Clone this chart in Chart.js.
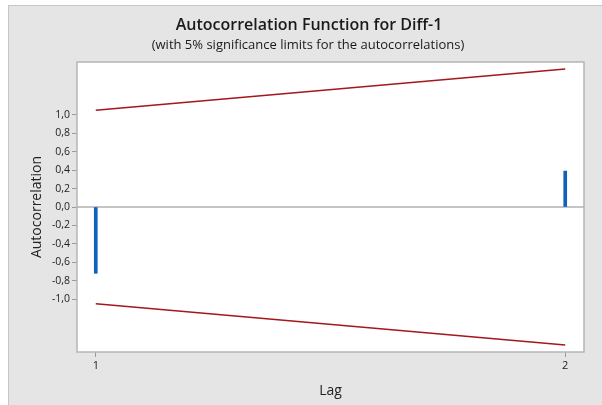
<!DOCTYPE html>
<html>
<head>
<meta charset="utf-8">
<script src="https://cdn.jsdelivr.net/npm/chart.js@4/dist/chart.umd.min.js"></script>
<style>
  html, body { margin: 0; padding: 0; background: #fff; }
  #wrap { width: 602px; height: 405px; }
</style>
</head>
<body>
<div id="wrap"><canvas id="acfChart"></canvas></div>
<script>
// ACF values
const lags = [1, 2];
const acf = [-0.72, 0.39];
const upperLimit = [1.05, 1.50];
const lowerLimit = [-1.05, -1.50];
const yTicks = [-1.0, -0.8, -0.6, -0.4, -0.2, 0.0, 0.2, 0.4, 0.6, 0.8, 1.0];
const xTicks = [1, 2];

const titleText = 'Autocorrelation Function for Diff-1';
const subtitleText = '(with 5% significance limits for the autocorrelations)';

const toXY = (vals) => lags.map((l, i) => ({ x: l, y: vals[i] }));

// gray frame, white plot area, zero line, border, titles
const frame = {
    id: 'frame',
    beforeDraw(chart) {
        const c = chart.ctx, a = chart.chartArea;
        c.save();
        c.fillStyle = '#ffffff';
        c.fillRect(0, 0, chart.width, chart.height);
        c.fillStyle = '#e5e5e5';
        c.fillRect(8, 5, chart.width - 8, chart.height - 5);
        c.strokeStyle = '#c6c6c6';
        c.lineWidth = 1;
        c.strokeRect(8.5, 5.5, chart.width, chart.height);
        c.fillStyle = '#ffffff';
        c.fillRect(a.left, a.top, a.right - a.left, a.bottom - a.top);

        c.fillStyle = '#1a1a1a';
        c.textAlign = 'center';
        c.textBaseline = 'middle';
        c.font = '600 16px "Open Sans"';
        c.fillText(titleText, 309, 25);
        c.font = '13px "Open Sans"';
        c.fillText(subtitleText, 308, 45);
        c.restore();
    },
    beforeDatasetsDraw(chart) {
        const c = chart.ctx, a = chart.chartArea;
        const y0 = chart.scales.y.getPixelForValue(0);
        c.save();
        c.strokeStyle = '#c4c4c4';
        c.lineWidth = 2;
        c.beginPath();
        c.moveTo(a.left, y0);
        c.lineTo(a.right, y0);
        c.stroke();
        c.restore();
    },
    afterDraw(chart) {
        const c = chart.ctx, a = chart.chartArea;
        c.save();
        c.strokeStyle = '#b5b5b5';
        c.lineWidth = 1.5;
        c.strokeRect(a.left, a.top, a.right - a.left, a.bottom - a.top);
        c.restore();
    }
};

const ctx = document.getElementById('acfChart').getContext('2d');
const acfChart = new Chart(ctx, {
    type: 'bar',
    data: {
        datasets: [
            {
                type: 'line',
                data: toXY(upperLimit),
                borderColor: '#a3171d',
                borderWidth: 1.5,
                pointRadius: 0,
                fill: false
            },
            {
                type: 'line',
                data: toXY(lowerLimit),
                borderColor: '#a3171d',
                borderWidth: 1.5,
                pointRadius: 0,
                fill: false
            },
            {
                type: 'bar',
                data: toXY(acf),
                backgroundColor: '#1160bb',
                barThickness: 3
            }
        ]
    },
    options: {
        responsive: true,
        maintainAspectRatio: false,
        animation: false,
        layout: { padding: { top: 62, right: 18, left: 0, bottom: 0 } },
        plugins: {
            legend: { display: false },
            tooltip: { enabled: false }
        },
        scales: {
            x: {
                type: 'linear',
                min: 0.96,
                max: 2.04,
                offset: false,
                afterBuildTicks: (s) => { s.ticks = xTicks.map(v => ({ value: v })); },
                afterFit: (s) => { s.height = 53; },
                grid: { offset: false, drawOnChartArea: false, tickLength: 5, tickColor: '#9a9a9a' },
                border: { display: false },
                ticks: {
                    padding: 2,
                    color: '#222',
                    font: { family: 'Open Sans', size: 11 }
                },
                title: {
                    display: true,
                    text: 'Lag',
                    color: '#222',
                    font: { family: 'Open Sans', size: 14 },
                    padding: { top: 0, bottom: 6 }
                }
            },
            y: {
                min: -1.575,
                max: 1.575,
                afterBuildTicks: (s) => { s.ticks = yTicks.map(v => ({ value: v })); },
                afterFit: (s) => { s.width = 77; },
                grid: { drawOnChartArea: false, tickLength: 5, tickColor: '#9a9a9a' },
                border: { display: false },
                ticks: {
                    padding: 2,
                    color: '#222',
                    font: { family: 'Open Sans', size: 10.5 },
                    callback: (v) => v.toFixed(1).replace('.', ',')
                },
                title: {
                    display: true,
                    text: 'Autocorrelation',
                    color: '#222',
                    font: { family: 'Open Sans', size: 14 },
                    padding: { top: 29, bottom: 0 }
                }
            }
        }
    },
    plugins: [frame]
});
</script>
</body>
</html>
